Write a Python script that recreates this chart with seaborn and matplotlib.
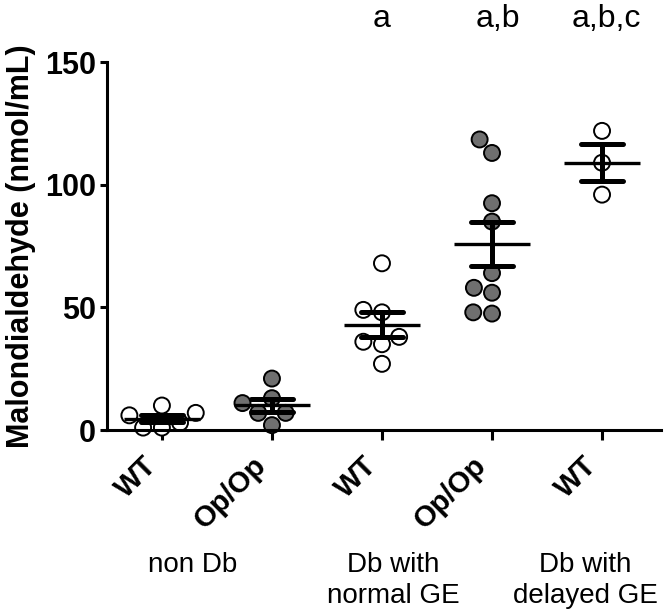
import matplotlib
matplotlib.use("Agg")
import matplotlib.pyplot as plt
import matplotlib.transforms as mtransforms
import pandas as pd
import seaborn as sns

# group keys (x order), tick labels, genotype of each group
groups = ["nonDb_WT", "nonDb_OpOp", "normGE_WT", "normGE_OpOp", "delGE_WT"]
tick_labels = ["WT", "Op/Op", "WT", "Op/Op", "WT"]
genotypes = ["WT", "Op/Op", "WT", "Op/Op", "WT"]

# Malondialdehyde values (nmol/mL)
mda_nondb_wt = [10, 7, 6, 3, 1, 1]
mda_nondb_op = [21, 13, 11, 7, 7, 2]
mda_normal_wt = [68, 49, 48, 38, 36, 35, 27]
mda_normal_op = [118.5, 113, 92.5, 85, 64, 58, 56, 48, 47.5]
mda_delayed_wt = [122, 109, 96]

condition_labels = ["non Db", "Db with\nnormal GE", "Db with\ndelayed GE"]
condition_x = [0.28, 2.1, 3.85]
sig_labels = ["a", "a,b", "a,b,c"]
sig_x = [2, 3.05, 4.04]

values = [mda_nondb_wt, mda_nondb_op, mda_normal_wt, mda_normal_op, mda_delayed_wt]
rows = []
for g, geno, vals in zip(groups, genotypes, values):
    for v in vals:
        rows.append({"group": g, "genotype": geno, "mda": v})
df = pd.DataFrame(rows)

sns.set_style("ticks")
plt.rcParams["font.family"] = ["Liberation Sans", "DejaVu Sans"]
for key in ["text.color", "axes.labelcolor", "xtick.color", "ytick.color", "axes.edgecolor"]:
    plt.rcParams[key] = "black"

fig = plt.figure(figsize=(6.64, 6.10), dpi=100)
ax = fig.add_axes([0.161, 0.295, 0.8345, 0.603])

sns.swarmplot(
    data=df, x="group", y="mda", hue="genotype", order=groups,
    palette={"WT": "white", "Op/Op": "#6f6f6f"},
    size=11.5, edgecolor="black", linewidth=1.4,
    legend=False, ax=ax, zorder=2,
)
for coll in ax.collections:
    coll.set_clip_on(False)

# mean +/- SEM
sns.pointplot(
    data=df, x="group", y="mda", order=groups,
    errorbar="se", capsize=0.38, linestyle="none",
    marker="_", markersize=55, markeredgewidth=2.4,
    color="black", err_kws={"linewidth": 3.6},
    ax=ax, zorder=3,
)

ax.set_xlim(-0.5, 4.536)
ax.set_ylim(0, 150)
ax.set_yticks([0, 50, 100, 150])
ax.set_yticklabels(["0", "50", "100", "150"], fontsize=22, fontweight="bold")
ax.set_xticks(range(len(groups)))
ax.set_xticklabels(tick_labels, fontsize=21, fontweight="bold",
                   rotation=45, ha="right", va="top")
ax.set_xlabel("")
ax.set_ylabel("Malondialdehyde (nmol/mL)", fontsize=22, fontweight="bold", labelpad=6)

sns.despine(ax=ax)
for side in ["left", "bottom"]:
    ax.spines[side].set_linewidth(2.2)
ax.tick_params(axis="y", length=5, width=2.2, pad=3, colors="black")
ax.tick_params(axis="x", length=7, width=2.2, pad=8, colors="black")

trans = mtransforms.blended_transform_factory(ax.transData, fig.transFigure)
for x, lab in zip(condition_x, condition_labels):
    ax.text(x, 0.095, lab, transform=trans, ha="center", va="top",
            fontsize=20, linespacing=1.25, color="black")
for x, lab in zip(sig_x, sig_labels):
    ax.text(x, 0.955, lab, transform=trans, ha="center", va="baseline",
            fontsize=23, color="black")

fig.savefig("out.png", dpi=100)
